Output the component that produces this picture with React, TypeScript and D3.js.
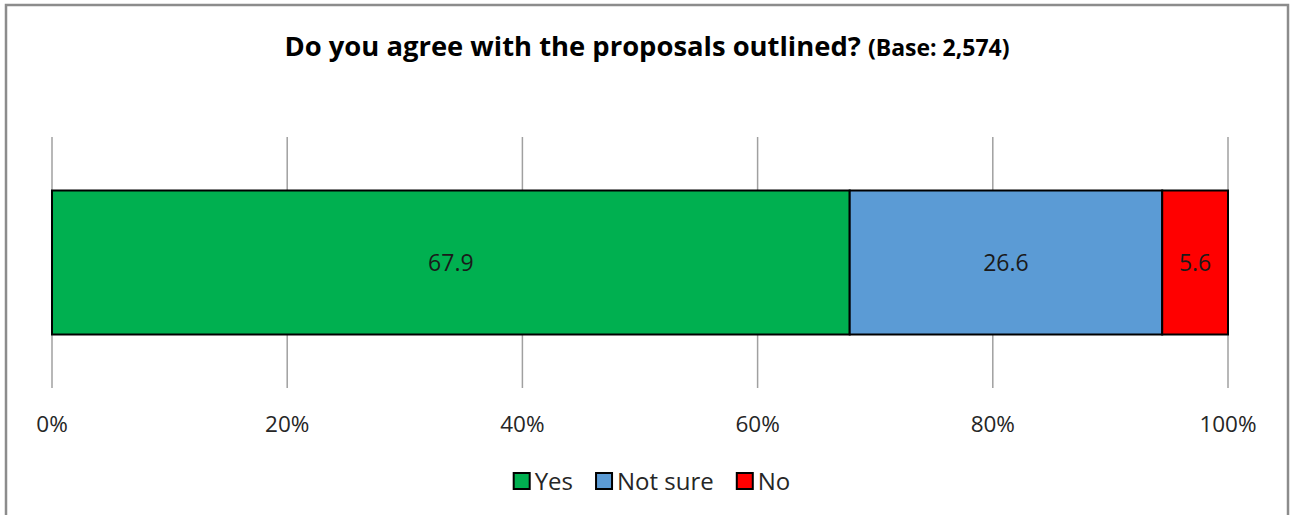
import React, { useEffect, useRef } from "react";
import * as d3 from "d3";

const categories = ["All respondents"];
const seriesNames = ["Yes", "Not sure", "No"];
const seriesValues = [67.9, 26.6, 5.6];
const seriesColors = ["#00b050", "#5b9bd5", "#ff0000"];
const tickValues = [0, 20, 40, 60, 80, 100];
const titleMain = "Do you agree with the proposals outlined?";
const titleBase = "(Base: 2,574)";

const W = 1295;
const H = 515;
const FONT = "'Open Sans', 'Noto Sans', sans-serif";

export default function App() {
  const ref = useRef<SVGSVGElement | null>(null);

  useEffect(() => {
    const svg = d3.select(ref.current);
    svg.selectAll("*").remove();

    // chart border
    svg.append("rect")
      .attr("x", 6).attr("y", 5)
      .attr("width", 1282).attr("height", 530)
      .attr("fill", "#fff")
      .attr("stroke", "#8c8c8c").attr("stroke-width", 2.5);

    // title
    const title = svg.append("text")
      .attr("x", 647).attr("y", 56)
      .attr("text-anchor", "middle")
      .attr("font-family", FONT)
      .attr("font-weight", "bold")
      .attr("fill", "#000");
    title.append("tspan").attr("font-size", 27.4).text(titleMain + " ");
    title.append("tspan").attr("font-size", 23).text(titleBase);

    const x = d3.scaleLinear().domain([0, 100]).range([52, 1228]);
    const y = d3.scaleBand().domain(categories).range([137, 388])
      .paddingInner(0.2709).paddingOuter(0.2709);

    // gridlines
    svg.append("g").selectAll("line").data(tickValues).join("line")
      .attr("x1", d => x(d)).attr("x2", d => x(d))
      .attr("y1", 137).attr("y2", 388)
      .attr("stroke", "#a0a0a0").attr("stroke-width", 1.5);

    // tick labels
    svg.append("g").selectAll("text").data(tickValues).join("text")
      .attr("x", d => x(d)).attr("y", 432)
      .attr("text-anchor", "middle")
      .attr("font-family", FONT).attr("font-size", 22.5)
      .attr("fill", "#262626")
      .text(d => d + "%");

    // stacked 100% bar
    const total = d3.sum(seriesValues);
    const row: Record<string, number | string> = { cat: categories[0] };
    seriesNames.forEach((n, i) => (row[n] = (seriesValues[i] / total) * 100));
    const stacked = d3.stack<any>().keys(seriesNames)([row]);

    const g = svg.append("g");
    stacked.forEach((layer, i) => {
      layer.forEach(seg => {
        const x0 = x(seg[0]);
        const x1 = x(seg[1]);
        const yy = y(categories[0]) as number;
        g.append("rect")
          .attr("x", x0).attr("y", yy)
          .attr("width", x1 - x0).attr("height", y.bandwidth())
          .attr("fill", seriesColors[i])
          .attr("stroke", "#000").attr("stroke-width", 2);
        g.append("text")
          .attr("x", (x0 + x1) / 2)
          .attr("y", yy + y.bandwidth() / 2 + 8.5)
          .attr("text-anchor", "middle")
          .attr("font-family", FONT).attr("font-size", 23)
          .attr("fill", "#1a1a1a")
          .text(seriesValues[i].toFixed(1));
      });
    });

    // legend
    const leg = svg.append("g");
    const marker = 16;
    const gapText = 5;
    const gapItem = 23;
    const items = seriesNames.map((n, i) => {
      const it = leg.append("g");
      it.append("rect")
        .attr("x", 0).attr("y", -marker / 2)
        .attr("width", marker).attr("height", marker)
        .attr("fill", seriesColors[i])
        .attr("stroke", "#000").attr("stroke-width", 2);
      const t = it.append("text")
        .attr("x", marker + gapText).attr("y", 8.5)
        .attr("font-family", FONT).attr("font-size", 24)
        .attr("fill", "#262626")
        .text(n);
      const w = marker + gapText + (t.node() as SVGTextElement).getComputedTextLength();
      return { it, w };
    });
    const totalW = d3.sum(items, d => d.w) + gapItem * (items.length - 1);
    let cx = 652 - totalW / 2;
    items.forEach(({ it, w }) => {
      it.attr("transform", `translate(${cx},481)`);
      cx += w + gapItem;
    });
  }, []);

  return (
    <svg
      ref={ref}
      width={W}
      height={H}
      style={{ position: "absolute", left: 0, top: 0, background: "#fff" }}
    />
  );
}
